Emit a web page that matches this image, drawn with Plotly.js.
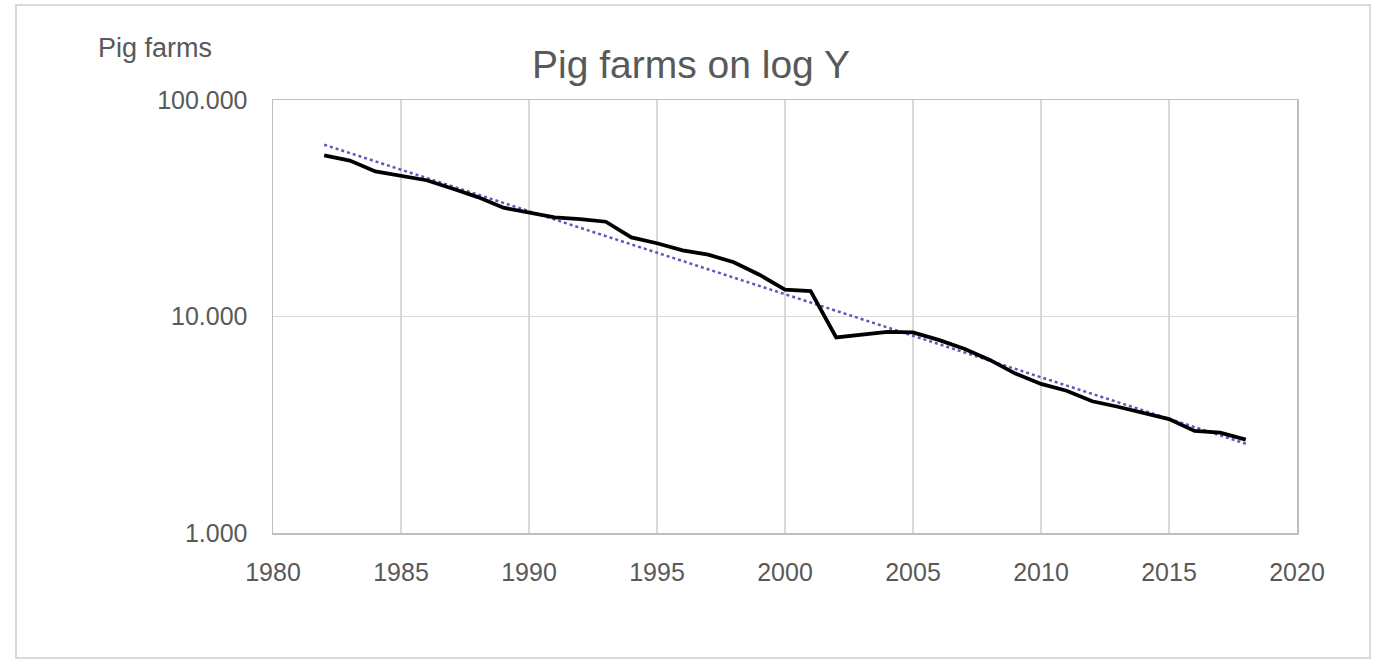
<!DOCTYPE html>
<html>
<head>
<meta charset="utf-8">
<script src="https://cdn.plot.ly/plotly-3.0.1.min.js"></script>
<style>
html,body{margin:0;padding:0;background:#fff;}
#chart{width:1383px;height:664px;}
</style>
</head>
<body>
<div id="chart"></div>
<script>
const years = [1982,1983,1984,1985,1986,1987,1988,1989,1990,1991,1992,1993,1994,1995,1996,1997,1998,1999,2000,2001,2002,2003,2004,2005,2006,2007,2008,2009,2010,2011,2012,2013,2014,2015,2016,2017,2018];
const pigFarms = [55500,52500,46800,44800,42600,39000,35600,31800,30200,28700,28200,27400,23200,21800,20200,19300,17800,15600,13300,13100,8000,8250,8500,8450,7800,7100,6300,5450,4880,4540,4060,3830,3600,3360,2960,2910,2700];
const yTickVals = [1000,10000,100000];
const yTickText = ["1.000","10.000","100.000"];
const xTickVals = [1980,1985,1990,1995,2000,2005,2010,2015,2020];

// Exponential trendline (least squares on log10 values), like a spreadsheet trendline
const n = years.length;
const lx = years, ly = pigFarms.map(v => Math.log10(v));
const mx = lx.reduce((a,b)=>a+b,0)/n, my = ly.reduce((a,b)=>a+b,0)/n;
let sxy=0, sxx=0;
for (let i=0;i<n;i++){ sxy += (lx[i]-mx)*(ly[i]-my); sxx += (lx[i]-mx)*(lx[i]-mx); }
const slope = sxy/sxx, icpt = my - slope*mx;
const trend = years.map(x => Math.pow(10, icpt + slope*x));

const txt = '#595959';
const font = 'Liberation Sans, Arial, sans-serif';

const traces = [
  {x: years, y: trend, type:'scatter', mode:'lines',
   line:{color:'#5a5ab8', width:2.5, dash:'dot'}, hoverinfo:'skip', showlegend:false},
  {x: years, y: pigFarms, type:'scatter', mode:'lines',
   line:{color:'#000000', width:3.8}, showlegend:false}
];

const layout = {
  width:1383, height:664,
  paper_bgcolor:'#ffffff', plot_bgcolor:'#ffffff',
  margin:{l:273, r:86, t:100, b:131},
  font:{family:font, color:txt},
  title:{text:'Pig farms on log Y', font:{size:39, color:txt, family:font},
         x:691/1383, xanchor:'center', xref:'container', y:1-64/664, yanchor:'middle', yref:'container'},
  xaxis:{range:[1980,2020], tickvals:xTickVals, showgrid:true, gridcolor:'#d9d9d9', gridwidth:1.5,
         zeroline:false, showline:true, linecolor:'#bfbfbf', linewidth:1.5, mirror:true,
         ticks:'', tickfont:{size:25, color:txt}, ticklabelstandoff:16, fixedrange:true},
  yaxis:{type:'log', range:[3,5], tickvals:yTickVals, ticktext:yTickText, showgrid:true,
         gridcolor:'#d9d9d9', gridwidth:1.5, zeroline:false, showline:true, linecolor:'#bfbfbf',
         linewidth:1.5, mirror:true, ticks:'', tickfont:{size:25, color:txt}, ticklabelstandoff:19, fixedrange:true},
  annotations:[
    {text:'Pig farms', xref:'paper', yref:'paper', x:(96-273)/1024, y:(533-48)/433,
     xanchor:'left', yanchor:'middle', showarrow:false, font:{size:27, color:txt, family:font}}
  ],
  shapes:[
    {type:'rect', xref:'paper', yref:'paper', x0:(16-273)/1024, x1:(1370-273)/1024,
     y0:(533-658)/433, y1:(533-5)/433, line:{color:'#d9d9d9', width:2}, fillcolor:'rgba(0,0,0,0)'}
  ]
};

Plotly.newPlot('chart', traces, layout, {displayModeBar:false, staticPlot:true});
</script>
</body>
</html>
